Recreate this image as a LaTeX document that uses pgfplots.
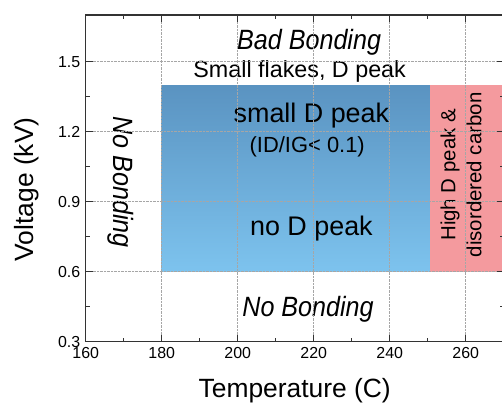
\documentclass[border=0pt]{standalone}
\usepackage{fontspec}
\setmainfont{Liberation Sans}
\newfontfamily\italnarrow[FakeStretch=0.9]{Liberation Sans}
\usepackage{pgfplots}
\pgfplotsset{compat=1.18}
\definecolor{bluetop}{HTML}{5A93C1}
\definecolor{bluebot}{HTML}{7DC3EE}
\definecolor{pinkfill}{HTML}{F49A9E}
\begin{document}
\begin{tikzpicture}
\begin{axis}[
  scale only axis, width=418bp, height=326.7bp,
  xmin=160, xmax=270, ymin=0.3, ymax=1.7,
  xtick={160,180,200,220,240,260}, ytick={0.3,0.6,0.9,1.2,1.5},
  minor x tick num=1, minor y tick num=1,
  tick align=inside, major tick length=7bp, minor tick length=4bp,
  grid=major, major grid style={densely dotted, gray!70, line width=0.7pt},
  axis on top,
  axis line style={line width=1.2pt, black!80},
  every tick/.style={black!80, line width=1pt},
  /pgf/number format/assume math mode=true,
  tick label style={font=\fontsize{16}{18}\selectfont},
  xticklabel style={yshift=-2.5bp},
  yticklabel style={xshift=-2bp, /pgf/number format/.cd, fixed, fixed zerofill, precision=1},
  label style={font=\fontsize{26.5}{30}\selectfont},
  xlabel={Temperature (C)}, ylabel={Voltage (kV)},
  xlabel style={at={(rel axis cs:0.5,0)}, anchor=base, yshift=-55.3bp},
  ylabel style={at={(rel axis cs:0,0.466)}, anchor=center, yshift=59bp},
]
\addplot[draw=none, top color=bluetop, bottom color=bluebot] coordinates {(180,0.6) (250.6,0.6) (250.6,1.4) (180,1.4)} -- cycle;
\addplot[draw=none, fill=pinkfill] coordinates {(250.6,0.6) (270,0.6) (270,1.4) (250.6,1.4)} -- cycle;
\coordinate (SW) at (rel axis cs:0,0);
\coordinate (NE) at (rel axis cs:1,1);
\node[font=\italnarrow\itshape\fontsize{28}{30}\selectfont, anchor=base] at (axis cs:218.8,1.551) {Bad Bonding};
\node[font=\fontsize{23.4}{25}\selectfont, anchor=base] at (axis cs:216.3,1.431) {Small flakes, D peak};
\node[font=\fontsize{27}{29}\selectfont, anchor=base] at (axis cs:219.4,1.239) {small D peak};
\node[font=\fontsize{22}{24}\selectfont, anchor=base] at (axis cs:218.3,1.109) {(ID/IG< 0.1)};
\node[font=\fontsize{27}{29}\selectfont, anchor=base] at (axis cs:219.4,0.757) {no D peak};
\node[font=\italnarrow\itshape\fontsize{28}{30}\selectfont, anchor=base] at (axis cs:218.5,0.406) {No Bonding};
\node[font=\italnarrow\itshape\fontsize{28}{30}\selectfont, rotate=-90, anchor=center] at (axis cs:169.3,0.984) {No Bonding};
\node[font=\fontsize{20.5}{26}\selectfont, rotate=90, anchor=center, align=center] at (axis cs:258.8,1.015) {High D peak \&\\disordered carbon};
\end{axis}
\pgfresetboundingbox
\path[use as bounding box] ([xshift=-85.7bp,yshift=-61.3bp]SW) rectangle ([xshift=-1.7bp,yshift=15bp]NE);
\end{tikzpicture}
\end{document}
